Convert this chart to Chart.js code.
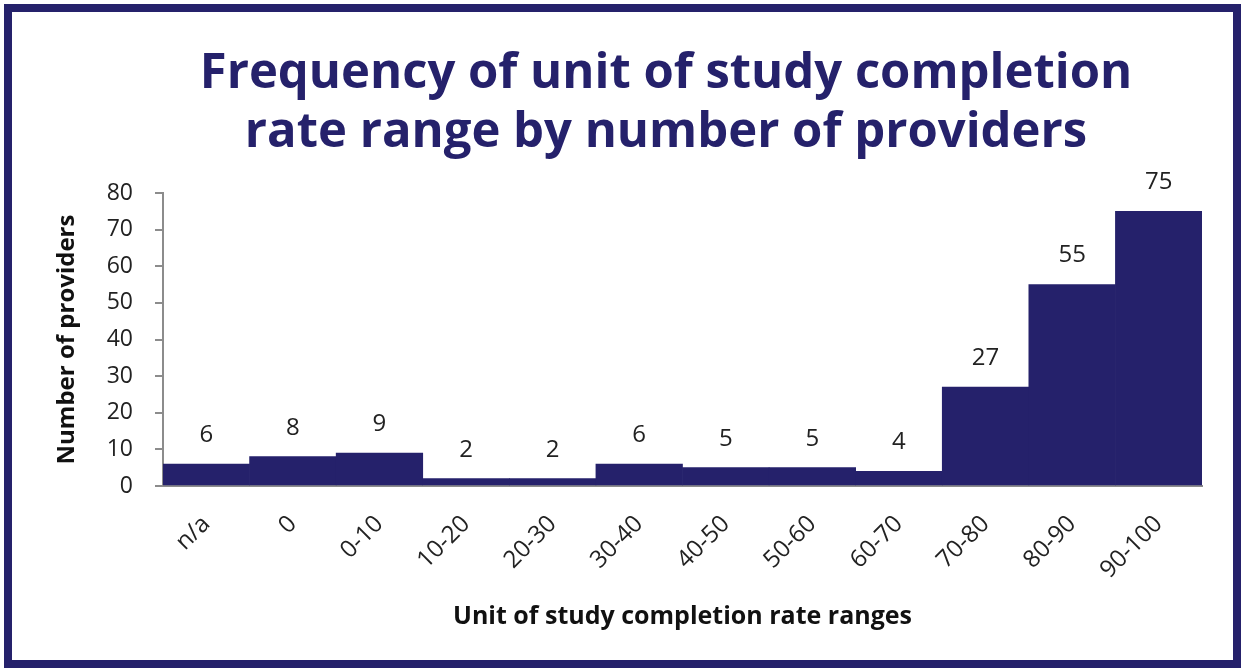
<!DOCTYPE html>
<html>
<head>
<meta charset="utf-8">
<script src="https://cdn.jsdelivr.net/npm/chart.js@4.4.1/dist/chart.umd.min.js"></script>
<style>
html,body{margin:0;padding:0;background:#fff;}
#wrap{position:relative;width:1241px;height:668px;}
</style>
</head>
<body>
<div id="wrap"><canvas id="c" width="1241" height="668"></canvas></div>
<script>
const categories = ['n/a','0','0-10','10-20','20-30','30-40','40-50','50-60','60-70','70-80','80-90','90-100'];
const providers = [6, 8, 9, 2, 2, 6, 5, 5, 4, 27, 55, 75];
const yTicks = [0, 10, 20, 30, 40, 50, 60, 70, 80];
const titleLines = ['Frequency of unit of study completion', 'rate range by number of providers'];
const xTitle = 'Unit of study completion rate ranges';
const yTitle = 'Number of providers';

const NAVY = '#25216B';
const FONT = '"Open Sans", Lato, sans-serif';

const framePlugin = {
  id: 'frame',
  beforeDraw(chart) {
    const ctx = chart.ctx;
    ctx.save();
    ctx.fillStyle = '#fff';
    ctx.fillRect(0, 0, chart.width, chart.height);
    ctx.strokeStyle = NAVY;
    ctx.lineWidth = 8;
    ctx.strokeRect(8, 8, chart.width - 12, chart.height - 12);
    ctx.restore();
  },
  afterDraw(chart) {
    const ctx = chart.ctx;
    ctx.save();
    ctx.fillStyle = NAVY;
    ctx.font = 'bold 49px ' + FONT;
    ctx.textAlign = 'center';
    ctx.textBaseline = 'middle';
    ctx.fillText(titleLines[0], 666, 74);
    ctx.fillText(titleLines[1], 666, 133);
    ctx.restore();
  }
};

const labelPlugin = {
  id: 'valueLabels',
  afterDatasetsDraw(chart) {
    const ctx = chart.ctx;
    const meta = chart.getDatasetMeta(0);
    ctx.save();
    ctx.fillStyle = '#222';
    ctx.font = '24px ' + FONT;
    ctx.textAlign = 'center';
    ctx.textBaseline = 'middle';
    meta.data.forEach((bar, i) => {
      ctx.fillText(String(providers[i]), bar.x, bar.y - 29);
    });
    ctx.restore();
  }
};

new Chart(document.getElementById('c'), {
  type: 'bar',
  data: {
    labels: categories,
    datasets: [{
      data: providers,
      backgroundColor: NAVY,
      borderWidth: 0,
      barPercentage: 1,
      categoryPercentage: 1
    }]
  },
  options: {
    responsive: false,
    animation: false,
    devicePixelRatio: 1,
    layout: { padding: { top: 193, left: 0, right: 39, bottom: 0 } },
    plugins: { legend: { display: false }, tooltip: { enabled: false }, title: { display: false } },
    scales: {
      x: {
        afterFit(scale) { scale.height = 182; },
        grid: { display: false },
        border: { display: true, color: '#8c8c8c', width: 2 },
        ticks: {
          color: '#222',
          font: { family: FONT, size: 24 },
          minRotation: 45,
          maxRotation: 45,
          padding: 16
        },
        title: {
          display: true,
          text: xTitle,
          color: '#111',
          font: { family: FONT, size: 25, weight: 'bold' },
          padding: { top: 0, bottom: 36 }
        }
      },
      y: {
        min: 0,
        max: 80,
        afterFit(scale) { scale.width = 163; },
        afterBuildTicks(scale) { scale.ticks = yTicks.map(v => ({ value: v })); },
        grid: { display: true, drawOnChartArea: false, drawTicks: true, tickLength: 8, color: '#8c8c8c', lineWidth: 2 },
        border: { display: true, color: '#8c8c8c', width: 2 },
        ticks: {
          color: '#222',
          font: { family: FONT, size: 23 },
          padding: 22
        },
        title: {
          display: true,
          text: yTitle,
          color: '#111',
          font: { family: FONT, size: 24, weight: 'bold' },
          padding: { top: 53, bottom: 0 }
        }
      }
    }
  },
  plugins: [framePlugin, labelPlugin]
});
</script>
</body>
</html>
